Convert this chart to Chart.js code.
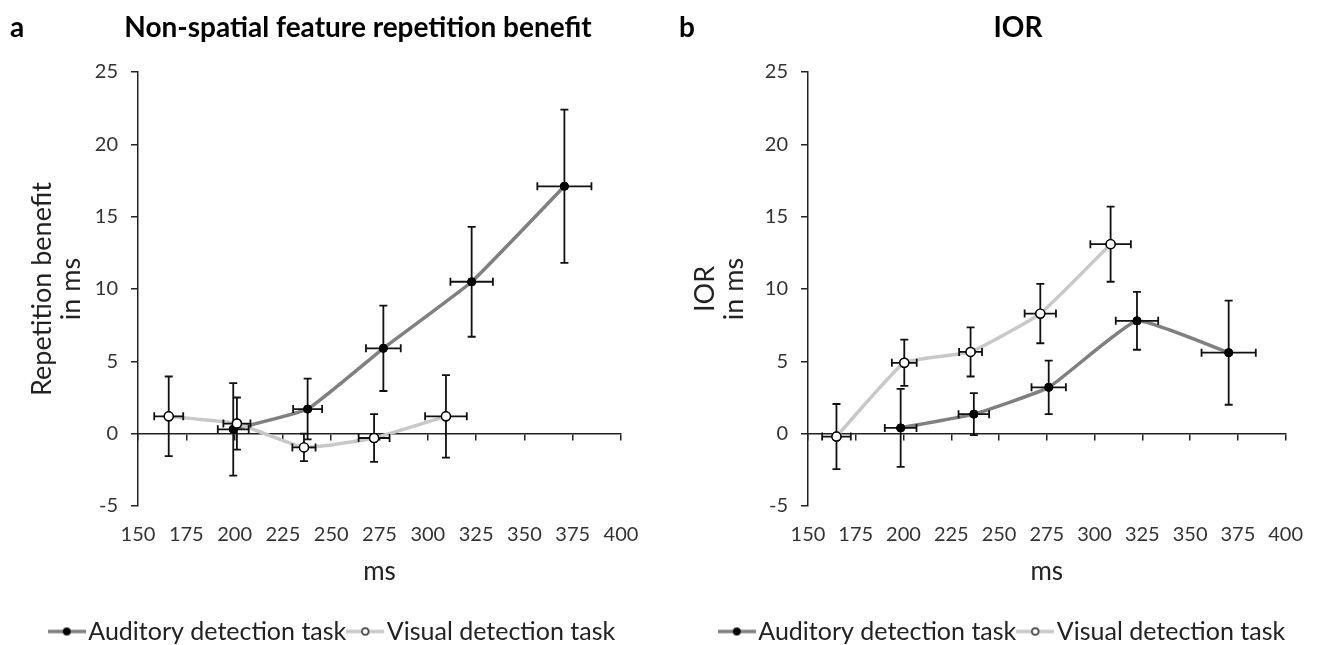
<!DOCTYPE html>
<html>
<head>
<meta charset="utf-8">
<script src="https://cdn.jsdelivr.net/npm/chart.js@4.4.1/dist/chart.umd.min.js"></script>
<style>
  body { margin: 0; background: #fff; width: 1320px; height: 645px; position: relative; overflow: hidden; font-family: Lato, sans-serif; }
  .panel { position: absolute; top: 0; height: 645px; }
  .lbl { position: absolute; top: 9px; font-weight: bold; font-size: 28px; line-height: 34px; color: #000; white-space: nowrap; }
</style>
</head>
<body>
<div class="panel" style="left:0;width:660px"><canvas id="chartA" width="660" height="645"></canvas></div>
<div class="panel" style="left:670px;width:650px"><canvas id="chartB" width="650" height="645"></canvas></div>
<div class="lbl" style="left:10px">a</div>
<div class="lbl" style="left:88px;width:540px;text-align:center">Non-spatial feature repetition benefit</div>
<div class="lbl" style="left:679px">b</div>
<div class="lbl" style="left:968px;width:100px;text-align:center">IOR</div>

<script>
// axis ranges / tick steps
const xRange = [150, 400];
const xStep = 25;
const yRange = [-5, 25];
const yStep = 5;
const seriesNames = ['Auditory detection task', 'Visual detection task'];

// panel a: non-spatial feature repetition benefit
const aAudX = [199.3, 237.8, 277.0, 322.7, 370.7];
const aAudY = [0.3, 1.7, 5.9, 10.5, 17.1];
const aAudXErr = [8.0, 7.5, 9.0, 11.0, 14.0];
const aAudYErr = [3.2, 2.1, 2.95, 3.8, 5.3];

const aVisX = [165.9, 201.2, 235.9, 272.2, 309.4];
const aVisY = [1.2, 0.7, -0.95, -0.3, 1.2];
const aVisXErr = [7.5, 7.0, 6.0, 8.0, 10.8];
const aVisYErr = [2.75, 1.8, 0.95, 1.65, 2.85];

// panel b: IOR
const bAudX = [198.5, 236.8, 276.0, 322.2, 370.2];
const bAudY = [0.4, 1.35, 3.2, 7.8, 5.6];
const bAudXErr = [8.3, 8.0, 9.0, 11.1, 14.2];
const bAudYErr = [2.7, 1.45, 1.85, 2.0, 3.6];

const bVisX = [164.9, 200.4, 235.1, 271.6, 308.4];
const bVisY = [-0.2, 4.9, 5.65, 8.3, 13.1];
const bVisXErr = [7.5, 6.5, 6.0, 8.2, 10.6];
const bVisYErr = [2.25, 1.6, 1.7, 2.05, 2.6];

const AUD_LINE = '#808080';
const VIS_LINE = '#c8c8c8';
const FONT = 'Lato, sans-serif';

function legendIcon(lineColor, fill) {
    const c = document.createElement('canvas');
    c.width = 38; c.height = 12;
    const g = c.getContext('2d');
    g.strokeStyle = lineColor; g.lineWidth = 3.5;
    g.beginPath(); g.moveTo(0, 6); g.lineTo(38, 6); g.stroke();
    g.beginPath(); g.arc(19, 6, 3.3, 0, Math.PI * 2);
    g.fillStyle = fill; g.fill();
    g.lineWidth = 1.2; g.strokeStyle = '#000'; g.stroke();
    return c;
}
const icons = [legendIcon(AUD_LINE, '#000'), legendIcon(VIS_LINE, '#fff')];

// draws x/y error bars, then puts the markers back on top
const errorBars = {
    id: 'errorBars',
    afterDatasetsDraw(chart) {
        const { ctx, scales: { x, y } } = chart;
        const cap = 4;
        ctx.save();
        ctx.strokeStyle = '#111';
        ctx.lineWidth = 1.8;
        chart.data.datasets.forEach(ds => {
            ds.data.forEach((p, j) => {
                const px = x.getPixelForValue(p.x), py = y.getPixelForValue(p.y);
                const yt = y.getPixelForValue(p.y + ds.yErr[j]), yb = y.getPixelForValue(p.y - ds.yErr[j]);
                const xl = x.getPixelForValue(p.x - ds.xErr[j]), xr = x.getPixelForValue(p.x + ds.xErr[j]);
                ctx.beginPath();
                ctx.moveTo(px, yt); ctx.lineTo(px, yb);
                ctx.moveTo(px - cap, yt); ctx.lineTo(px + cap, yt);
                ctx.moveTo(px - cap, yb); ctx.lineTo(px + cap, yb);
                ctx.moveTo(xl, py); ctx.lineTo(xr, py);
                ctx.moveTo(xl, py - cap); ctx.lineTo(xl, py + cap);
                ctx.moveTo(xr, py - cap); ctx.lineTo(xr, py + cap);
                ctx.stroke();
            });
        });
        chart.data.datasets.forEach((ds, i) => {
            chart.getDatasetMeta(i).data.forEach(pt => pt.draw(ctx, chart.chartArea));
        });
        ctx.restore();
    }
};

// the legend sits a bit right of the canvas centre in the original
const legendShift = {
    id: 'legendShift',
    afterLayout(chart) {
        chart.legend.left += 26;
        chart.legend.right += 26;
    }
};

function toPoints(xs, ys) {
    return xs.map((v, i) => ({ x: v, y: ys[i] }));
}

function makeChart(id, aud, vis, yTitle, yTitlePad, padRight) {
    return new Chart(document.getElementById(id), {
        type: 'scatter',
        data: {
            datasets: [{
                label: seriesNames[0],
                data: toPoints(aud[0], aud[1]),
                xErr: aud[2], yErr: aud[3],
                showLine: true,
                borderColor: AUD_LINE,
                borderWidth: 3.5,
                tension: 0.12,
                pointRadius: 4,
                pointBackgroundColor: '#000',
                pointBorderColor: '#000',
                pointBorderWidth: 1,
                order: 1
            }, {
                label: seriesNames[1],
                data: toPoints(vis[0], vis[1]),
                xErr: vis[2], yErr: vis[3],
                showLine: true,
                borderColor: VIS_LINE,
                borderWidth: 3.5,
                tension: 0.12,
                pointRadius: 4.5,
                pointBackgroundColor: '#fff',
                pointBorderColor: '#000',
                pointBorderWidth: 1.4,
                order: 0
            }]
        },
        options: {
            responsive: false,
            animation: false,
            layout: { padding: { top: 72, right: padRight, bottom: -9, left: 0 } },
            scales: {
                x: {
                    type: 'linear', position: 'bottom',
                    min: xRange[0], max: xRange[1],
                    ticks: { stepSize: xStep, padding: 17, color: '#333', font: { family: FONT, size: 20 } },
                    grid: { display: false, drawTicks: false },
                    border: { display: false },
                    title: { display: true, text: 'ms', color: '#222', font: { family: FONT, size: 26 }, padding: { top: 0, bottom: 22 } },
                    afterFit: s => { s.height = 103; }
                },
                x2: {
                    type: 'linear', position: { y: 0 },
                    min: xRange[0], max: xRange[1],
                    ticks: { stepSize: xStep, display: false },
                    grid: { drawOnChartArea: false, tickLength: 6, color: '#222', lineWidth: 1.5 },
                    border: { color: '#222', width: 1.5 }
                },
                y: {
                    min: yRange[0], max: yRange[1],
                    ticks: { stepSize: yStep, padding: 13, color: '#333', font: { family: FONT, size: 20 } },
                    grid: { drawOnChartArea: false, tickLength: 7, color: '#222', lineWidth: 1.5 },
                    border: { color: '#222', width: 1.5 },
                    title: { display: true, text: yTitle, color: '#222', font: { family: FONT, size: 27, lineHeight: 1.08 }, padding: { top: yTitlePad, bottom: 0 } },
                    afterFit: s => { s.width = 138; }
                }
            },
            plugins: {
                legend: {
                    position: 'bottom',
                    labels: {
                        usePointStyle: true,
                        pointStyleWidth: 18,
                        padding: 10,
                        color: '#222',
                        font: { family: FONT, size: 25 },
                        sort: (a, b) => a.datasetIndex - b.datasetIndex,
                        generateLabels: chart => Chart.defaults.plugins.legend.labels.generateLabels(chart)
                            .map(item => Object.assign(item, { pointStyle: icons[item.datasetIndex], rotation: 0 }))
                    }
                },
                tooltip: { enabled: false }
            }
        },
        plugins: [errorBars, legendShift]
    });
}

makeChart('chartA', [aAudX, aAudY, aAudXErr, aAudYErr], [aVisX, aVisY, aVisXErr, aVisYErr],
    ['Repetition benefit', 'in ms'], 28, 39);
makeChart('chartB', [bAudX, bAudY, bAudXErr, bAudYErr], [bVisX, bVisY, bVisXErr, bVisYErr],
    ['IOR', 'in ms'], 21, 29);
</script>
</body>
</html>
